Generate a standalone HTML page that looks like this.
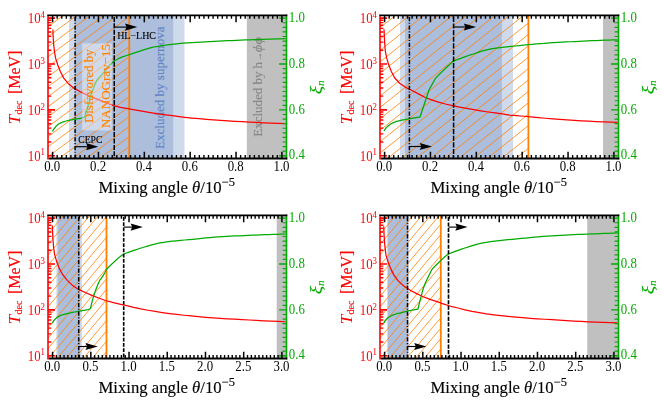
<!DOCTYPE html>
<html><head><meta charset="utf-8"><title>Figure</title>
<style>
html,body{margin:0;padding:0;background:#fff;}
body{width:664px;height:400px;overflow:hidden;}
svg{display:block;font-family:"Liberation Serif",serif;}
svg text{stroke-width:0.14px;}
svg text.tk{stroke-width:0;}
</style></head><body>
<svg width="664" height="400" viewBox="0 0 664 400">
<rect width="664" height="400" fill="#fff"/>
<g opacity="0.999">
<clipPath id="c0"><rect x="48" y="15.4" width="238.5" height="143.1"/></clipPath>
<g clip-path="url(#c0)">
<rect x="69" y="15.4" width="115.5" height="143.1" fill="#cfdaec"/>
<rect x="75" y="15.4" width="98.25" height="143.1" fill="#acbedc"/>
<rect x="246.8" y="15.4" width="39.7" height="143.1" fill="#c0c0c0"/>
<clipPath id="h0"><rect x="48" y="15.4" width="81.25" height="143.1"/></clipPath>
<g clip-path="url(#h0)" stroke="#ff8000" stroke-width="0.8" opacity="1">
<path d="M48 16.7L129.25 -43.42M48 26.7L129.25 -33.42M48 36.7L129.25 -23.42M48 46.7L129.25 -13.42M48 56.7L129.25 -3.42M48 66.7L129.25 6.58M48 76.7L129.25 16.58M48 86.7L129.25 26.58M48 96.7L129.25 36.58M48 106.7L129.25 46.58M48 116.7L129.25 56.58M48 126.7L129.25 66.58M48 136.7L129.25 76.57M48 146.7L129.25 86.57M48 156.7L129.25 96.57M48 166.7L129.25 106.57M48 176.7L129.25 116.57M48 186.7L129.25 126.57M48 196.7L129.25 136.57M48 206.7L129.25 146.57M48 216.7L129.25 156.57" fill="none"/>
</g>
<line x1="129.25" y1="15.4" x2="129.25" y2="158.5" stroke="#ff8000" stroke-width="1.8"/>
<text transform="translate(163.8 87.75) rotate(-90)" text-anchor="middle" font-size="13.4" fill="#5f84c4" stroke="#5f84c4" textLength="122.5" lengthAdjust="spacingAndGlyphs">Excluded by supernova</text>
<text transform="translate(261.5 136.75) rotate(-90)" text-anchor="start" font-size="13.4" fill="#858585" stroke="#858585" textLength="74.85" lengthAdjust="spacingAndGlyphs">Excluded by h</text>
<text transform="translate(261.5 61.3) rotate(-90)" text-anchor="start" font-size="10" fill="#858585" stroke="#858585" textLength="9.2" lengthAdjust="spacingAndGlyphs">→</text>
<text transform="translate(261.5 52.2) rotate(-90)" text-anchor="start" font-size="13.4" fill="#858585" stroke="#858585" textLength="15.2" lengthAdjust="spacingAndGlyphs"><tspan font-style="italic">ϕϕ</tspan></text>
<path d="M52.9 29.5L53.13 36.71L53.63 43.9L54.4 51.08L55.58 58.17L57.8 65.05L60.46 71.75L63.79 78.1L68.37 83.65L74.06 88.14L80.29 91.75L86.8 94.87L93.45 97.65L100.15 100.33L106.84 103.05L113.59 105.61L120.57 107.3L127.68 108.65L134.77 109.97L141.88 111.23L149 112.42L156.12 113.52L163.27 114.52L170.42 115.46L177.57 116.42L184.73 117.33L191.9 118.09L199.08 118.73L206.27 119.31L213.47 119.86L220.66 120.36L227.86 120.84L235.06 121.29L242.26 121.71L249.46 122.09L256.67 122.44L263.88 122.77L271.08 123.07L278.29 123.35L285.5 123.6" fill="none" stroke="#ff0000" stroke-width="1.25" stroke-linejoin="round"/>
<path d="M52.5 131.5L52.93 130.65L53.4 129.82L53.9 129.02L54.43 128.26L54.99 127.52L55.58 126.79L56.22 126.08L56.89 125.41L57.6 124.8L58.34 124.27L59.13 123.78L59.96 123.33L60.82 122.91L61.69 122.52L62.57 122.17L63.44 121.84L64.32 121.53L65.22 121.25L66.12 120.98L67.03 120.74L67.95 120.51L68.86 120.31L69.78 120.12L70.7 119.94L71.62 119.78L72.55 119.62L73.48 119.46L74.4 119.3L75.33 119.14L76.26 118.99L77.19 118.85L78.12 118.71L79.05 118.57L79.97 118.4L80.89 118.22L81.8 118.01L82.7 117.76L83.6 117.49L84.5 117.2L85.01 115.61L85.52 114.01L86.04 112.42L86.55 110.83L87.09 109.25L87.64 107.66L88.17 106.08L88.63 104.47L89.02 102.85L89.35 101.2L89.67 99.56L90.02 97.92L90.42 96.3L90.92 94.71L91.52 93.15L92.16 91.6L92.78 90.04L93.38 88.46L93.98 86.86L94.6 85.27L95.24 83.7L95.94 82.18L96.69 80.72L97.53 79.35L98.59 78.09L99.81 76.91L100.98 75.69L102.08 74.44L103.18 73.17L104.26 71.9L105.32 70.6L106.38 69.3L107.43 68L108.5 66.71L109.59 65.45L110.72 64.23L111.89 63.03L113.08 61.85L114.3 60.7L118.3 58.69L122.39 56.94L126.6 55.5L130.85 54.12L135.08 52.71L139.31 51.29L143.54 49.86L147.8 48.54L152.11 47.42L156.48 46.51L160.88 45.76L165.29 45.15L169.73 44.65L174.16 44.17L178.59 43.66L183.03 43.19L187.47 42.83L191.92 42.54L196.37 42.29L200.83 42.06L205.29 41.83L209.74 41.6L214.19 41.37L218.65 41.15L223.1 40.93L227.56 40.73L232.01 40.53L236.47 40.34L240.93 40.16L245.38 39.98L249.84 39.81L254.3 39.66L258.75 39.51L263.21 39.37L267.67 39.23L272.13 39.1L276.58 38.97L281.04 38.83L285.5 38.7" fill="none" stroke="#00aa00" stroke-width="1.25" stroke-linejoin="round"/>
<rect x="82.2" y="43.4" width="29.6" height="87" fill="rgba(255,255,255,0.42)"/>
<text transform="translate(93 86.2) rotate(-90)" text-anchor="middle" font-size="13.4" fill="#ff8000" stroke="#ff8000" textLength="73.8" lengthAdjust="spacingAndGlyphs">Disfavored by</text>
<text transform="translate(109.9 86) rotate(-90)" text-anchor="middle" font-size="13.4" fill="#ff8000" stroke="#ff8000" textLength="84.2" lengthAdjust="spacingAndGlyphs">NANOGrav−15</text>
<line x1="75.1" y1="16.9" x2="75.1" y2="158.5" stroke="#000" stroke-width="1.5" stroke-dasharray="4.3 1.5 1.1 1.7"/>
<line x1="114.25" y1="16.9" x2="114.25" y2="158.5" stroke="#000" stroke-width="1.5" stroke-dasharray="5.0 1.4"/>
</g>
<line x1="75" y1="146.7" x2="92" y2="146.7" stroke="#000" stroke-width="1.15"/>
<path d="M98.3 146.7L86 143.1L87.6 146.7L86 150.3Z" fill="#000"/>
<line x1="114.25" y1="27.1" x2="130.95" y2="27.1" stroke="#000" stroke-width="1.15"/>
<path d="M137.25 27.1L124.95 23.5L126.55 27.1L124.95 30.7Z" fill="#000"/>
<text x="117.2" y="38.6" font-size="9.7" fill="#000" stroke="#000" textLength="38.8" lengthAdjust="spacingAndGlyphs">HL−LHC</text>
<text x="78.2" y="142.7" font-size="10" fill="#000" stroke="#000" textLength="24.2" lengthAdjust="spacingAndGlyphs">CEPC</text>
<path d="M48 155.75h7M48 109.88h7M48 64.02h7M48 18.15h7" stroke="#ff0000" stroke-width="1.7" fill="none"/>
<path d="M48 141.94h3.4M48 133.86h3.4M48 128.13h3.4M48 123.69h3.4M48 120.06h3.4M48 116.99h3.4M48 114.33h3.4M48 111.98h3.4M48 96.08h3.4M48 88h3.4M48 82.27h3.4M48 77.82h3.4M48 74.19h3.4M48 71.12h3.4M48 68.46h3.4M48 66.12h3.4M48 50.21h3.4M48 42.13h3.4M48 36.4h3.4M48 31.96h3.4M48 28.33h3.4M48 25.26h3.4M48 22.6h3.4M48 20.25h3.4" stroke="#ff0000" stroke-width="1.4" fill="none"/>
<path d="M286.5 155.75h-7.4M286.5 109.88h-7.4M286.5 64.02h-7.4M286.5 18.15h-7.4" stroke="#00aa00" stroke-width="1.4" fill="none"/>
<path d="M286.5 151.16h-3.9M286.5 146.58h-3.9M286.5 141.99h-3.9M286.5 137.4h-3.9M286.5 132.82h-3.9M286.5 128.23h-3.9M286.5 123.64h-3.9M286.5 119.06h-3.9M286.5 114.47h-3.9M286.5 105.3h-3.9M286.5 100.71h-3.9M286.5 96.12h-3.9M286.5 91.54h-3.9M286.5 86.95h-3.9M286.5 82.36h-3.9M286.5 77.78h-3.9M286.5 73.19h-3.9M286.5 68.6h-3.9M286.5 59.43h-3.9M286.5 54.84h-3.9M286.5 50.26h-3.9M286.5 45.67h-3.9M286.5 41.08h-3.9M286.5 36.5h-3.9M286.5 31.91h-3.9M286.5 27.32h-3.9M286.5 22.74h-3.9" stroke="#00aa00" stroke-width="1.15" fill="none"/>
<path d="M52.59 158.5v-6.8M52.59 15.4v6.8M98.45 158.5v-6.8M98.45 15.4v6.8M144.32 158.5v-6.8M144.32 15.4v6.8M190.18 158.5v-6.8M190.18 15.4v6.8M236.05 158.5v-6.8M236.05 15.4v6.8M281.91 158.5v-6.8M281.91 15.4v6.8" stroke="#000" stroke-width="1.5" fill="none"/>
<path d="M57.17 158.5v-3.4M57.17 15.4v3.4M61.76 158.5v-3.4M61.76 15.4v3.4M66.35 158.5v-3.4M66.35 15.4v3.4M70.93 158.5v-3.4M70.93 15.4v3.4M75.52 158.5v-3.4M75.52 15.4v3.4M80.11 158.5v-3.4M80.11 15.4v3.4M84.69 158.5v-3.4M84.69 15.4v3.4M89.28 158.5v-3.4M89.28 15.4v3.4M93.87 158.5v-3.4M93.87 15.4v3.4M103.04 158.5v-3.4M103.04 15.4v3.4M107.62 158.5v-3.4M107.62 15.4v3.4M112.21 158.5v-3.4M112.21 15.4v3.4M116.8 158.5v-3.4M116.8 15.4v3.4M121.38 158.5v-3.4M121.38 15.4v3.4M125.97 158.5v-3.4M125.97 15.4v3.4M130.56 158.5v-3.4M130.56 15.4v3.4M135.14 158.5v-3.4M135.14 15.4v3.4M139.73 158.5v-3.4M139.73 15.4v3.4M148.9 158.5v-3.4M148.9 15.4v3.4M153.49 158.5v-3.4M153.49 15.4v3.4M158.08 158.5v-3.4M158.08 15.4v3.4M162.66 158.5v-3.4M162.66 15.4v3.4M167.25 158.5v-3.4M167.25 15.4v3.4M171.84 158.5v-3.4M171.84 15.4v3.4M176.42 158.5v-3.4M176.42 15.4v3.4M181.01 158.5v-3.4M181.01 15.4v3.4M185.6 158.5v-3.4M185.6 15.4v3.4M194.77 158.5v-3.4M194.77 15.4v3.4M199.36 158.5v-3.4M199.36 15.4v3.4M203.94 158.5v-3.4M203.94 15.4v3.4M208.53 158.5v-3.4M208.53 15.4v3.4M213.12 158.5v-3.4M213.12 15.4v3.4M217.7 158.5v-3.4M217.7 15.4v3.4M222.29 158.5v-3.4M222.29 15.4v3.4M226.88 158.5v-3.4M226.88 15.4v3.4M231.46 158.5v-3.4M231.46 15.4v3.4M240.63 158.5v-3.4M240.63 15.4v3.4M245.22 158.5v-3.4M245.22 15.4v3.4M249.81 158.5v-3.4M249.81 15.4v3.4M254.39 158.5v-3.4M254.39 15.4v3.4M258.98 158.5v-3.4M258.98 15.4v3.4M263.57 158.5v-3.4M263.57 15.4v3.4M268.15 158.5v-3.4M268.15 15.4v3.4M272.74 158.5v-3.4M272.74 15.4v3.4M277.33 158.5v-3.4M277.33 15.4v3.4" stroke="#000" stroke-width="1.4" fill="none"/>
<line x1="286.5" y1="14.5" x2="286.5" y2="159.4" stroke="#00aa00" stroke-width="1.6"/>
<line x1="48" y1="16.3" x2="48" y2="159.4" stroke="#ff0000" stroke-width="1.6"/>
<path d="M47.2 15.4H287.3 M48.8 158.5H287.3" stroke="#000" stroke-width="1.8" fill="none"/>
<text class="tk" transform="translate(52.19 170.9) scale(0.885 1)" font-size="14.5" text-anchor="middle" fill="#000" stroke="#000">0.0</text>
<text class="tk" transform="translate(98.05 170.9) scale(0.885 1)" font-size="14.5" text-anchor="middle" fill="#000" stroke="#000">0.2</text>
<text class="tk" transform="translate(143.92 170.9) scale(0.885 1)" font-size="14.5" text-anchor="middle" fill="#000" stroke="#000">0.4</text>
<text class="tk" transform="translate(189.78 170.9) scale(0.885 1)" font-size="14.5" text-anchor="middle" fill="#000" stroke="#000">0.6</text>
<text class="tk" transform="translate(235.65 170.9) scale(0.885 1)" font-size="14.5" text-anchor="middle" fill="#000" stroke="#000">0.8</text>
<text class="tk" transform="translate(281.51 170.9) scale(0.885 1)" font-size="14.5" text-anchor="middle" fill="#000" stroke="#000">1.0</text>
<text class="tk" transform="translate(45 160.65) scale(0.885 1)" font-size="14.5" text-anchor="end" fill="#ff0000" stroke="#ff0000">10<tspan font-size="10" dy="-5.2">1</tspan></text>
<text class="tk" transform="translate(45 114.78) scale(0.885 1)" font-size="14.5" text-anchor="end" fill="#ff0000" stroke="#ff0000">10<tspan font-size="10" dy="-5.2">2</tspan></text>
<text class="tk" transform="translate(45 68.92) scale(0.885 1)" font-size="14.5" text-anchor="end" fill="#ff0000" stroke="#ff0000">10<tspan font-size="10" dy="-5.2">3</tspan></text>
<text class="tk" transform="translate(45 23.05) scale(0.885 1)" font-size="14.5" text-anchor="end" fill="#ff0000" stroke="#ff0000">10<tspan font-size="10" dy="-5.2">4</tspan></text>
<text class="tk" transform="translate(288.8 159.45) scale(0.885 1)" font-size="14.5" fill="#00aa00" stroke="#00aa00">0.4</text>
<text class="tk" transform="translate(288.8 113.58) scale(0.885 1)" font-size="14.5" fill="#00aa00" stroke="#00aa00">0.6</text>
<text class="tk" transform="translate(288.8 67.72) scale(0.885 1)" font-size="14.5" fill="#00aa00" stroke="#00aa00">0.8</text>
<text class="tk" transform="translate(288.8 21.85) scale(0.885 1)" font-size="14.5" fill="#00aa00" stroke="#00aa00">1.0</text>
<text x="166.75" y="193" font-size="16" text-anchor="middle" textLength="136.5" lengthAdjust="spacingAndGlyphs" fill="#000" stroke="#000">Mixing angle <tspan font-style="italic">θ</tspan>/10<tspan font-size="12" dy="-6.8">−5</tspan></text>
<text transform="translate(19.6 124.3) rotate(-90)" class="tk" font-size="17" font-style="italic" fill="#ff0000" stroke="#ff0000">T</text>
<text transform="translate(21.7 114.5) rotate(-90)" font-size="10" fill="#ff0000" stroke="#ff0000">dec</text>
<text transform="translate(19.6 94.1) rotate(-90)" font-size="16" fill="#ff0000" stroke="#ff0000">[MeV]</text>
<text transform="translate(321.5 94.3) rotate(-90) scale(1.15 1)" font-size="17" font-style="italic" fill="#00aa00" stroke="#00aa00">ξ</text>
<text transform="translate(324.4 85.8) rotate(-90)" font-size="10.5" font-style="italic" fill="#00aa00" stroke="#00aa00">n</text>
<clipPath id="c1"><rect x="380" y="15.4" width="238.5" height="143.1"/></clipPath>
<g clip-path="url(#c1)">
<rect x="400" y="15.4" width="113" height="143.1" fill="#cfdaec"/>
<rect x="405" y="15.4" width="96.9" height="143.1" fill="#acbedc"/>
<rect x="603" y="15.4" width="15.5" height="143.1" fill="#c0c0c0"/>
<clipPath id="h1"><rect x="380" y="15.4" width="148.4" height="143.1"/></clipPath>
<g clip-path="url(#h1)" stroke="#ff8000" stroke-width="0.8" opacity="1">
<path d="M380 16.3L528.4 -102.42M380 27.7L528.4 -91.02M380 39.1L528.4 -79.62M380 50.5L528.4 -68.22M380 61.9L528.4 -56.82M380 73.3L528.4 -45.42M380 84.7L528.4 -34.02M380 96.1L528.4 -22.62M380 107.5L528.4 -11.22M380 118.9L528.4 0.18M380 130.3L528.4 11.58M380 141.7L528.4 22.98M380 153.1L528.4 34.38M380 164.5L528.4 45.78M380 175.9L528.4 57.18M380 187.3L528.4 68.58M380 198.7L528.4 79.98M380 210.1L528.4 91.38M380 221.5L528.4 102.78M380 232.9L528.4 114.18M380 244.3L528.4 125.58M380 255.7L528.4 136.98M380 267.1L528.4 148.38" fill="none"/>
</g>
<line x1="528.4" y1="15.4" x2="528.4" y2="158.5" stroke="#ff8000" stroke-width="1.8"/>
<path d="M384 29.2L384.31 36.42L384.71 43.63L385.29 50.82L386.66 57.91L388.72 64.84L391.34 71.57L394.76 77.96L399.66 83.22L405.59 87.32L412.09 90.47L418.46 93.9L424.85 97.24L431.56 99.87L438.45 102.12L445.41 104.01L452.46 105.63L459.53 107.07L466.64 108.36L473.75 109.64L480.86 110.89L488 112L495.15 112.96L502.3 113.97L509.45 115.01L516.64 115.69L523.84 116.25L531.04 116.88L538.22 117.56L545.41 118.25L552.61 118.87L559.81 119.42L567.01 119.92L574.22 120.38L581.43 120.81L588.64 121.21L595.85 121.57L603.07 121.9L610.28 122.19L617.5 122.45" fill="none" stroke="#ff0000" stroke-width="1.25" stroke-linejoin="round"/>
<path d="M384 131L384.53 130.1L385.11 129.24L385.72 128.42L386.37 127.64L387.07 126.9L387.82 126.19L388.61 125.51L389.43 124.89L390.27 124.33L391.14 123.8L392.05 123.31L392.98 122.85L393.93 122.43L394.88 122.05L395.83 121.7L396.81 121.37L397.8 121.07L398.79 120.8L399.79 120.55L400.78 120.33L401.79 120.12L402.79 119.94L403.81 119.76L404.82 119.59L405.83 119.43L406.85 119.27L407.86 119.1L408.88 118.92L409.89 118.74L410.89 118.55L411.9 118.36L412.91 118.17L413.92 117.99L414.93 117.81L415.94 117.64L416.96 117.47L417.97 117.31L418.99 117.15L420 117L429 90L435.5 78.3L435.94 77.84L436.38 77.39L436.83 76.93L437.27 76.48L437.72 76.03L438.16 75.57L438.61 75.12L439.05 74.67L439.5 74.22L439.95 73.77L440.4 73.32L440.85 72.88L441.3 72.43L441.75 71.98L442.21 71.54L442.66 71.09L443.11 70.65L443.57 70.21L444.02 69.77L444.48 69.33L444.94 68.89L445.39 68.45L445.85 68.01L446.31 67.57L446.77 67.13L447.23 66.7L447.7 66.26L448.16 65.83L448.62 65.39L449.09 64.96L449.55 64.53L450.02 64.1L450.48 63.67L450.95 63.24L451.42 62.81L451.89 62.38L452.36 61.95L452.83 61.53L453.3 61.1L457.29 59.57L461.29 58.08L465.31 56.63L469.34 55.22L473.43 53.98L477.46 52.59L481.48 51.15L485.61 50.1L489.8 49.21L494.01 48.46L498.23 47.82L502.47 47.27L506.71 46.8L510.96 46.4L515.21 46L519.46 45.55L523.71 45.1L527.96 44.67L532.21 44.29L536.47 43.93L540.73 43.59L544.98 43.28L549.25 42.98L553.51 42.71L557.77 42.46L562.03 42.21L566.3 41.98L570.56 41.75L574.83 41.53L579.09 41.31L583.36 41.09L587.62 40.89L591.89 40.7L596.16 40.52L600.43 40.36L604.69 40.2L608.96 40.06L613.23 39.92L617.5 39.8" fill="none" stroke="#00aa00" stroke-width="1.25" stroke-linejoin="round"/>
<line x1="409.4" y1="16.9" x2="409.4" y2="158.5" stroke="#000" stroke-width="1.5" stroke-dasharray="4.3 1.5 1.1 1.7"/>
<line x1="453.6" y1="16.9" x2="453.6" y2="158.5" stroke="#000" stroke-width="1.5" stroke-dasharray="5.1 1.5"/>
</g>
<line x1="409.4" y1="146.5" x2="425.7" y2="146.5" stroke="#000" stroke-width="1.15"/>
<path d="M432 146.5L419.7 142.9L421.3 146.5L419.7 150.1Z" fill="#000"/>
<line x1="453.6" y1="27" x2="469.8" y2="27" stroke="#000" stroke-width="1.15"/>
<path d="M476.1 27L463.8 23.4L465.4 27L463.8 30.6Z" fill="#000"/>
<path d="M380 155.75h7M380 109.88h7M380 64.02h7M380 18.15h7" stroke="#ff0000" stroke-width="1.7" fill="none"/>
<path d="M380 141.94h3.4M380 133.86h3.4M380 128.13h3.4M380 123.69h3.4M380 120.06h3.4M380 116.99h3.4M380 114.33h3.4M380 111.98h3.4M380 96.08h3.4M380 88h3.4M380 82.27h3.4M380 77.82h3.4M380 74.19h3.4M380 71.12h3.4M380 68.46h3.4M380 66.12h3.4M380 50.21h3.4M380 42.13h3.4M380 36.4h3.4M380 31.96h3.4M380 28.33h3.4M380 25.26h3.4M380 22.6h3.4M380 20.25h3.4" stroke="#ff0000" stroke-width="1.4" fill="none"/>
<path d="M618.5 155.75h-7.4M618.5 109.88h-7.4M618.5 64.02h-7.4M618.5 18.15h-7.4" stroke="#00aa00" stroke-width="1.4" fill="none"/>
<path d="M618.5 151.16h-3.9M618.5 146.58h-3.9M618.5 141.99h-3.9M618.5 137.4h-3.9M618.5 132.82h-3.9M618.5 128.23h-3.9M618.5 123.64h-3.9M618.5 119.06h-3.9M618.5 114.47h-3.9M618.5 105.3h-3.9M618.5 100.71h-3.9M618.5 96.12h-3.9M618.5 91.54h-3.9M618.5 86.95h-3.9M618.5 82.36h-3.9M618.5 77.78h-3.9M618.5 73.19h-3.9M618.5 68.6h-3.9M618.5 59.43h-3.9M618.5 54.84h-3.9M618.5 50.26h-3.9M618.5 45.67h-3.9M618.5 41.08h-3.9M618.5 36.5h-3.9M618.5 31.91h-3.9M618.5 27.32h-3.9M618.5 22.74h-3.9" stroke="#00aa00" stroke-width="1.15" fill="none"/>
<path d="M384.59 158.5v-6.8M384.59 15.4v6.8M430.45 158.5v-6.8M430.45 15.4v6.8M476.32 158.5v-6.8M476.32 15.4v6.8M522.18 158.5v-6.8M522.18 15.4v6.8M568.05 158.5v-6.8M568.05 15.4v6.8M613.91 158.5v-6.8M613.91 15.4v6.8" stroke="#000" stroke-width="1.5" fill="none"/>
<path d="M389.17 158.5v-3.4M389.17 15.4v3.4M393.76 158.5v-3.4M393.76 15.4v3.4M398.35 158.5v-3.4M398.35 15.4v3.4M402.93 158.5v-3.4M402.93 15.4v3.4M407.52 158.5v-3.4M407.52 15.4v3.4M412.11 158.5v-3.4M412.11 15.4v3.4M416.69 158.5v-3.4M416.69 15.4v3.4M421.28 158.5v-3.4M421.28 15.4v3.4M425.87 158.5v-3.4M425.87 15.4v3.4M435.04 158.5v-3.4M435.04 15.4v3.4M439.62 158.5v-3.4M439.62 15.4v3.4M444.21 158.5v-3.4M444.21 15.4v3.4M448.8 158.5v-3.4M448.8 15.4v3.4M453.38 158.5v-3.4M453.38 15.4v3.4M457.97 158.5v-3.4M457.97 15.4v3.4M462.56 158.5v-3.4M462.56 15.4v3.4M467.14 158.5v-3.4M467.14 15.4v3.4M471.73 158.5v-3.4M471.73 15.4v3.4M480.9 158.5v-3.4M480.9 15.4v3.4M485.49 158.5v-3.4M485.49 15.4v3.4M490.08 158.5v-3.4M490.08 15.4v3.4M494.66 158.5v-3.4M494.66 15.4v3.4M499.25 158.5v-3.4M499.25 15.4v3.4M503.84 158.5v-3.4M503.84 15.4v3.4M508.42 158.5v-3.4M508.42 15.4v3.4M513.01 158.5v-3.4M513.01 15.4v3.4M517.6 158.5v-3.4M517.6 15.4v3.4M526.77 158.5v-3.4M526.77 15.4v3.4M531.36 158.5v-3.4M531.36 15.4v3.4M535.94 158.5v-3.4M535.94 15.4v3.4M540.53 158.5v-3.4M540.53 15.4v3.4M545.12 158.5v-3.4M545.12 15.4v3.4M549.7 158.5v-3.4M549.7 15.4v3.4M554.29 158.5v-3.4M554.29 15.4v3.4M558.88 158.5v-3.4M558.88 15.4v3.4M563.46 158.5v-3.4M563.46 15.4v3.4M572.63 158.5v-3.4M572.63 15.4v3.4M577.22 158.5v-3.4M577.22 15.4v3.4M581.81 158.5v-3.4M581.81 15.4v3.4M586.39 158.5v-3.4M586.39 15.4v3.4M590.98 158.5v-3.4M590.98 15.4v3.4M595.57 158.5v-3.4M595.57 15.4v3.4M600.15 158.5v-3.4M600.15 15.4v3.4M604.74 158.5v-3.4M604.74 15.4v3.4M609.33 158.5v-3.4M609.33 15.4v3.4" stroke="#000" stroke-width="1.4" fill="none"/>
<line x1="618.5" y1="14.5" x2="618.5" y2="159.4" stroke="#00aa00" stroke-width="1.6"/>
<line x1="380" y1="16.3" x2="380" y2="159.4" stroke="#ff0000" stroke-width="1.6"/>
<path d="M379.2 15.4H619.3 M380.8 158.5H619.3" stroke="#000" stroke-width="1.8" fill="none"/>
<text class="tk" transform="translate(384.19 170.9) scale(0.885 1)" font-size="14.5" text-anchor="middle" fill="#000" stroke="#000">0.0</text>
<text class="tk" transform="translate(430.05 170.9) scale(0.885 1)" font-size="14.5" text-anchor="middle" fill="#000" stroke="#000">0.2</text>
<text class="tk" transform="translate(475.92 170.9) scale(0.885 1)" font-size="14.5" text-anchor="middle" fill="#000" stroke="#000">0.4</text>
<text class="tk" transform="translate(521.78 170.9) scale(0.885 1)" font-size="14.5" text-anchor="middle" fill="#000" stroke="#000">0.6</text>
<text class="tk" transform="translate(567.65 170.9) scale(0.885 1)" font-size="14.5" text-anchor="middle" fill="#000" stroke="#000">0.8</text>
<text class="tk" transform="translate(613.51 170.9) scale(0.885 1)" font-size="14.5" text-anchor="middle" fill="#000" stroke="#000">1.0</text>
<text class="tk" transform="translate(377 160.65) scale(0.885 1)" font-size="14.5" text-anchor="end" fill="#ff0000" stroke="#ff0000">10<tspan font-size="10" dy="-5.2">1</tspan></text>
<text class="tk" transform="translate(377 114.78) scale(0.885 1)" font-size="14.5" text-anchor="end" fill="#ff0000" stroke="#ff0000">10<tspan font-size="10" dy="-5.2">2</tspan></text>
<text class="tk" transform="translate(377 68.92) scale(0.885 1)" font-size="14.5" text-anchor="end" fill="#ff0000" stroke="#ff0000">10<tspan font-size="10" dy="-5.2">3</tspan></text>
<text class="tk" transform="translate(377 23.05) scale(0.885 1)" font-size="14.5" text-anchor="end" fill="#ff0000" stroke="#ff0000">10<tspan font-size="10" dy="-5.2">4</tspan></text>
<text class="tk" transform="translate(620.8 159.45) scale(0.885 1)" font-size="14.5" fill="#00aa00" stroke="#00aa00">0.4</text>
<text class="tk" transform="translate(620.8 113.58) scale(0.885 1)" font-size="14.5" fill="#00aa00" stroke="#00aa00">0.6</text>
<text class="tk" transform="translate(620.8 67.72) scale(0.885 1)" font-size="14.5" fill="#00aa00" stroke="#00aa00">0.8</text>
<text class="tk" transform="translate(620.8 21.85) scale(0.885 1)" font-size="14.5" fill="#00aa00" stroke="#00aa00">1.0</text>
<text x="498.75" y="193" font-size="16" text-anchor="middle" textLength="136.5" lengthAdjust="spacingAndGlyphs" fill="#000" stroke="#000">Mixing angle <tspan font-style="italic">θ</tspan>/10<tspan font-size="12" dy="-6.8">−5</tspan></text>
<text transform="translate(351.6 124.3) rotate(-90)" class="tk" font-size="17" font-style="italic" fill="#ff0000" stroke="#ff0000">T</text>
<text transform="translate(353.7 114.5) rotate(-90)" font-size="10" fill="#ff0000" stroke="#ff0000">dec</text>
<text transform="translate(351.6 94.1) rotate(-90)" font-size="16" fill="#ff0000" stroke="#ff0000">[MeV]</text>
<text transform="translate(653.5 94.3) rotate(-90) scale(1.15 1)" font-size="17" font-style="italic" fill="#00aa00" stroke="#00aa00">ξ</text>
<text transform="translate(656.4 85.8) rotate(-90)" font-size="10.5" font-style="italic" fill="#00aa00" stroke="#00aa00">n</text>
<clipPath id="c2"><rect x="48" y="215.4" width="238.5" height="143.1"/></clipPath>
<g clip-path="url(#c2)">
<rect x="56.3" y="215.4" width="25.6" height="143.1" fill="#cfdaec"/>
<rect x="57.8" y="215.4" width="22.3" height="143.1" fill="#acbedc"/>
<rect x="276.7" y="215.4" width="9.8" height="143.1" fill="#c0c0c0"/>
<clipPath id="h2"><rect x="48" y="215.4" width="58.5" height="143.1"/></clipPath>
<g clip-path="url(#h2)" stroke="#ff8000" stroke-width="0.8" opacity="1">
<path d="M48 223.7L106.5 154.09M48 234.1L106.5 164.49M48 244.5L106.5 174.88M48 254.9L106.5 185.29M48 265.3L106.5 195.69M48 275.7L106.5 206.08M48 286.1L106.5 216.49M48 296.5L106.5 226.88M48 306.9L106.5 237.28M48 317.3L106.5 247.69M48 327.7L106.5 258.09M48 338.1L106.5 268.49M48 348.5L106.5 278.88M48 358.9L106.5 289.28M48 369.3L106.5 299.69M48 379.7L106.5 310.09M48 390.1L106.5 320.49M48 400.5L106.5 330.88M48 410.9L106.5 341.28M48 421.3L106.5 351.69" fill="none"/>
</g>
<line x1="106.5" y1="215.4" x2="106.5" y2="358.5" stroke="#ff8000" stroke-width="1.8"/>
<path d="M52.4 225.6L52.62 232.87L53.01 240.12L53.61 247.38L54.65 254.56L56.67 261.55L59.25 268.37L62.71 274.71L67.23 280.42L72.52 285.41L78.62 289.4L85.18 292.51L91.87 295.36L98.64 298.02L105.48 300.48L112.47 302.46L119.56 304.08L126.65 305.66L133.7 307.44L140.81 308.94L147.96 310.26L155.13 311.45L162.32 312.53L169.52 313.52L176.73 314.43L183.96 315.25L191.19 315.99L198.43 316.65L205.67 317.26L212.92 317.81L220.17 318.32L227.43 318.78L234.68 319.2L241.94 319.6L249.2 320L256.46 320.39L263.72 320.77L270.98 321.12L278.24 321.45L285.5 321.75" fill="none" stroke="#ff0000" stroke-width="1.25" stroke-linejoin="round"/>
<path d="M52.2 323.3L52.73 322.3L53.32 321.35L53.96 320.46L54.65 319.63L55.38 318.87L56.16 318.16L57.02 317.49L57.95 316.86L58.9 316.3L59.87 315.81L60.85 315.39L61.86 315.01L62.9 314.67L63.96 314.35L65.02 314.06L66.07 313.78L67.13 313.52L68.19 313.28L69.25 313.05L70.32 312.83L71.39 312.62L72.46 312.41L73.53 312.21L74.6 312.01L75.67 311.82L76.74 311.63L77.81 311.43L78.88 311.23L79.95 311.03L81.04 310.84L82.12 310.66L83.21 310.48L84.29 310.28L85.36 310.07L86.43 309.85L87.48 309.6L88.51 309.31L89.53 308.99L90.5 308.5L90.72 307.42L90.95 306.35L91.19 305.28L91.44 304.22L91.71 303.15L91.98 302.09L92.26 301.04L92.54 299.98L92.84 298.93L93.14 297.88L93.45 296.83L93.76 295.79L94.08 294.74L94.41 293.7L94.76 292.67L95.13 291.63L95.5 290.61L95.89 289.58L96.28 288.56L96.68 287.54L97.07 286.51L97.46 285.48L97.86 284.45L98.28 283.43L98.72 282.42L99.19 281.44L99.71 280.49L100.3 279.6L101 278.75L101.62 277.86L102.23 276.96L102.83 276.05L103.42 275.13L103.99 274.2L104.54 273.25L105.07 272.29L105.57 271.31L106.05 270.31L106.5 269.3L106.92 268.88L107.34 268.46L107.76 268.04L108.18 267.62L108.6 267.2L109.02 266.78L109.44 266.37L109.87 265.96L110.29 265.54L110.72 265.13L111.15 264.72L111.58 264.31L112.01 263.9L112.44 263.49L112.87 263.09L113.3 262.68L113.74 262.28L114.17 261.87L114.6 261.47L115.04 261.06L115.47 260.65L115.91 260.25L116.34 259.85L116.78 259.44L117.22 259.05L117.66 258.65L118.11 258.26L118.56 257.88L119.01 257.5L119.47 257.12L119.93 256.75L120.4 256.39L120.88 256.04L121.35 255.69L121.84 255.34L122.32 255L122.81 254.66L123.3 254.33L123.8 254L127.67 252.54L131.65 251.19L135.63 249.84L139.62 248.52L143.62 247.24L147.64 246.03L151.69 244.91L155.76 243.87L159.87 242.96L164.01 242.29L168.18 241.74L172.35 241.23L176.52 240.77L180.7 240.35L184.89 240L189.08 239.67L193.26 239.31L197.44 238.89L201.62 238.44L205.8 237.97L209.98 237.52L214.16 237.13L218.34 236.8L222.53 236.55L226.73 236.33L230.92 236.13L235.12 235.94L239.32 235.76L243.52 235.59L247.72 235.4L251.91 235.21L256.11 235.03L260.31 234.84L264.5 234.68L268.7 234.52L272.9 234.39L277.1 234.28L281.3 234.18L285.5 234.1" fill="none" stroke="#00aa00" stroke-width="1.25" stroke-linejoin="round"/>
<line x1="78.7" y1="216.9" x2="78.7" y2="358.5" stroke="#000" stroke-width="1.5" stroke-dasharray="4.3 1.5 1.1 1.7"/>
<line x1="123.7" y1="216.9" x2="123.7" y2="358.5" stroke="#000" stroke-width="1.65" stroke-dasharray="3.8 1.45"/>
</g>
<line x1="78.7" y1="346.5" x2="91.5" y2="346.5" stroke="#000" stroke-width="1.15"/>
<path d="M97.8 346.5L85.5 342.9L87.1 346.5L85.5 350.1Z" fill="#000"/>
<line x1="123.7" y1="227.1" x2="136.6" y2="227.1" stroke="#000" stroke-width="1.15"/>
<path d="M142.9 227.1L130.6 223.5L132.2 227.1L130.6 230.7Z" fill="#000"/>
<path d="M48 355.75h7M48 309.88h7M48 264.02h7M48 218.15h7" stroke="#ff0000" stroke-width="1.7" fill="none"/>
<path d="M48 341.94h3.4M48 333.86h3.4M48 328.13h3.4M48 323.69h3.4M48 320.06h3.4M48 316.99h3.4M48 314.33h3.4M48 311.98h3.4M48 296.08h3.4M48 288h3.4M48 282.27h3.4M48 277.82h3.4M48 274.19h3.4M48 271.12h3.4M48 268.46h3.4M48 266.12h3.4M48 250.21h3.4M48 242.13h3.4M48 236.4h3.4M48 231.96h3.4M48 228.33h3.4M48 225.26h3.4M48 222.6h3.4M48 220.25h3.4" stroke="#ff0000" stroke-width="1.4" fill="none"/>
<path d="M286.5 355.75h-7.4M286.5 309.88h-7.4M286.5 264.02h-7.4M286.5 218.15h-7.4" stroke="#00aa00" stroke-width="1.4" fill="none"/>
<path d="M286.5 351.16h-3.9M286.5 346.58h-3.9M286.5 341.99h-3.9M286.5 337.4h-3.9M286.5 332.82h-3.9M286.5 328.23h-3.9M286.5 323.64h-3.9M286.5 319.06h-3.9M286.5 314.47h-3.9M286.5 305.3h-3.9M286.5 300.71h-3.9M286.5 296.12h-3.9M286.5 291.54h-3.9M286.5 286.95h-3.9M286.5 282.36h-3.9M286.5 277.78h-3.9M286.5 273.19h-3.9M286.5 268.6h-3.9M286.5 259.43h-3.9M286.5 254.84h-3.9M286.5 250.26h-3.9M286.5 245.67h-3.9M286.5 241.08h-3.9M286.5 236.5h-3.9M286.5 231.91h-3.9M286.5 227.32h-3.9M286.5 222.74h-3.9" stroke="#00aa00" stroke-width="1.15" fill="none"/>
<path d="M52.59 358.5v-6.8M52.59 215.4v6.8M90.81 358.5v-6.8M90.81 215.4v6.8M129.03 358.5v-6.8M129.03 215.4v6.8M167.25 358.5v-6.8M167.25 215.4v6.8M205.47 358.5v-6.8M205.47 215.4v6.8M243.69 358.5v-6.8M243.69 215.4v6.8M281.91 358.5v-6.8M281.91 215.4v6.8" stroke="#000" stroke-width="1.5" fill="none"/>
<path d="M56.41 358.5v-3.4M56.41 215.4v3.4M60.23 358.5v-3.4M60.23 215.4v3.4M64.05 358.5v-3.4M64.05 215.4v3.4M67.88 358.5v-3.4M67.88 215.4v3.4M71.7 358.5v-3.4M71.7 215.4v3.4M75.52 358.5v-3.4M75.52 215.4v3.4M79.34 358.5v-3.4M79.34 215.4v3.4M83.16 358.5v-3.4M83.16 215.4v3.4M86.99 358.5v-3.4M86.99 215.4v3.4M94.63 358.5v-3.4M94.63 215.4v3.4M98.45 358.5v-3.4M98.45 215.4v3.4M102.27 358.5v-3.4M102.27 215.4v3.4M106.1 358.5v-3.4M106.1 215.4v3.4M109.92 358.5v-3.4M109.92 215.4v3.4M113.74 358.5v-3.4M113.74 215.4v3.4M117.56 358.5v-3.4M117.56 215.4v3.4M121.38 358.5v-3.4M121.38 215.4v3.4M125.21 358.5v-3.4M125.21 215.4v3.4M132.85 358.5v-3.4M132.85 215.4v3.4M136.67 358.5v-3.4M136.67 215.4v3.4M140.5 358.5v-3.4M140.5 215.4v3.4M144.32 358.5v-3.4M144.32 215.4v3.4M148.14 358.5v-3.4M148.14 215.4v3.4M151.96 358.5v-3.4M151.96 215.4v3.4M155.78 358.5v-3.4M155.78 215.4v3.4M159.61 358.5v-3.4M159.61 215.4v3.4M163.43 358.5v-3.4M163.43 215.4v3.4M171.07 358.5v-3.4M171.07 215.4v3.4M174.89 358.5v-3.4M174.89 215.4v3.4M178.72 358.5v-3.4M178.72 215.4v3.4M182.54 358.5v-3.4M182.54 215.4v3.4M186.36 358.5v-3.4M186.36 215.4v3.4M190.18 358.5v-3.4M190.18 215.4v3.4M194 358.5v-3.4M194 215.4v3.4M197.83 358.5v-3.4M197.83 215.4v3.4M201.65 358.5v-3.4M201.65 215.4v3.4M209.29 358.5v-3.4M209.29 215.4v3.4M213.12 358.5v-3.4M213.12 215.4v3.4M216.94 358.5v-3.4M216.94 215.4v3.4M220.76 358.5v-3.4M220.76 215.4v3.4M224.58 358.5v-3.4M224.58 215.4v3.4M228.4 358.5v-3.4M228.4 215.4v3.4M232.23 358.5v-3.4M232.23 215.4v3.4M236.05 358.5v-3.4M236.05 215.4v3.4M239.87 358.5v-3.4M239.87 215.4v3.4M247.51 358.5v-3.4M247.51 215.4v3.4M251.34 358.5v-3.4M251.34 215.4v3.4M255.16 358.5v-3.4M255.16 215.4v3.4M258.98 358.5v-3.4M258.98 215.4v3.4M262.8 358.5v-3.4M262.8 215.4v3.4M266.63 358.5v-3.4M266.63 215.4v3.4M270.45 358.5v-3.4M270.45 215.4v3.4M274.27 358.5v-3.4M274.27 215.4v3.4M278.09 358.5v-3.4M278.09 215.4v3.4" stroke="#000" stroke-width="1.4" fill="none"/>
<line x1="286.5" y1="214.5" x2="286.5" y2="359.4" stroke="#00aa00" stroke-width="1.6"/>
<line x1="48" y1="216.3" x2="48" y2="359.4" stroke="#ff0000" stroke-width="1.6"/>
<path d="M47.2 215.4H287.3 M48.8 358.5H287.3" stroke="#000" stroke-width="1.8" fill="none"/>
<text class="tk" transform="translate(52.19 370.9) scale(0.885 1)" font-size="14.5" text-anchor="middle" fill="#000" stroke="#000">0.0</text>
<text class="tk" transform="translate(90.41 370.9) scale(0.885 1)" font-size="14.5" text-anchor="middle" fill="#000" stroke="#000">0.5</text>
<text class="tk" transform="translate(128.63 370.9) scale(0.885 1)" font-size="14.5" text-anchor="middle" fill="#000" stroke="#000">1.0</text>
<text class="tk" transform="translate(166.85 370.9) scale(0.885 1)" font-size="14.5" text-anchor="middle" fill="#000" stroke="#000">1.5</text>
<text class="tk" transform="translate(205.07 370.9) scale(0.885 1)" font-size="14.5" text-anchor="middle" fill="#000" stroke="#000">2.0</text>
<text class="tk" transform="translate(243.29 370.9) scale(0.885 1)" font-size="14.5" text-anchor="middle" fill="#000" stroke="#000">2.5</text>
<text class="tk" transform="translate(281.51 370.9) scale(0.885 1)" font-size="14.5" text-anchor="middle" fill="#000" stroke="#000">3.0</text>
<text class="tk" transform="translate(45 360.65) scale(0.885 1)" font-size="14.5" text-anchor="end" fill="#ff0000" stroke="#ff0000">10<tspan font-size="10" dy="-5.2">1</tspan></text>
<text class="tk" transform="translate(45 314.78) scale(0.885 1)" font-size="14.5" text-anchor="end" fill="#ff0000" stroke="#ff0000">10<tspan font-size="10" dy="-5.2">2</tspan></text>
<text class="tk" transform="translate(45 268.92) scale(0.885 1)" font-size="14.5" text-anchor="end" fill="#ff0000" stroke="#ff0000">10<tspan font-size="10" dy="-5.2">3</tspan></text>
<text class="tk" transform="translate(45 223.05) scale(0.885 1)" font-size="14.5" text-anchor="end" fill="#ff0000" stroke="#ff0000">10<tspan font-size="10" dy="-5.2">4</tspan></text>
<text class="tk" transform="translate(288.8 359.45) scale(0.885 1)" font-size="14.5" fill="#00aa00" stroke="#00aa00">0.4</text>
<text class="tk" transform="translate(288.8 313.58) scale(0.885 1)" font-size="14.5" fill="#00aa00" stroke="#00aa00">0.6</text>
<text class="tk" transform="translate(288.8 267.72) scale(0.885 1)" font-size="14.5" fill="#00aa00" stroke="#00aa00">0.8</text>
<text class="tk" transform="translate(288.8 221.85) scale(0.885 1)" font-size="14.5" fill="#00aa00" stroke="#00aa00">1.0</text>
<text x="166.75" y="393" font-size="16" text-anchor="middle" textLength="136.5" lengthAdjust="spacingAndGlyphs" fill="#000" stroke="#000">Mixing angle <tspan font-style="italic">θ</tspan>/10<tspan font-size="12" dy="-6.8">−5</tspan></text>
<text transform="translate(19.6 324.3) rotate(-90)" class="tk" font-size="17" font-style="italic" fill="#ff0000" stroke="#ff0000">T</text>
<text transform="translate(21.7 314.5) rotate(-90)" font-size="10" fill="#ff0000" stroke="#ff0000">dec</text>
<text transform="translate(19.6 294.1) rotate(-90)" font-size="16" fill="#ff0000" stroke="#ff0000">[MeV]</text>
<text transform="translate(321.5 294.3) rotate(-90) scale(1.15 1)" font-size="17" font-style="italic" fill="#00aa00" stroke="#00aa00">ξ</text>
<text transform="translate(324.4 285.8) rotate(-90)" font-size="10.5" font-style="italic" fill="#00aa00" stroke="#00aa00">n</text>
<clipPath id="c3"><rect x="380" y="215.4" width="238.5" height="143.1"/></clipPath>
<g clip-path="url(#c3)">
<rect x="387" y="215.4" width="21.6" height="143.1" fill="#cfdaec"/>
<rect x="388" y="215.4" width="20.2" height="143.1" fill="#acbedc"/>
<rect x="587.2" y="215.4" width="31.3" height="143.1" fill="#c0c0c0"/>
<clipPath id="h3"><rect x="380" y="215.4" width="60.8" height="143.1"/></clipPath>
<g clip-path="url(#h3)" stroke="#ff8000" stroke-width="0.8" opacity="1">
<path d="M380 223.7L440.8 151.35M380 234.1L440.8 161.75M380 244.5L440.8 172.15M380 254.9L440.8 182.55M380 265.3L440.8 192.95M380 275.7L440.8 203.35M380 286.1L440.8 213.75M380 296.5L440.8 224.15M380 306.9L440.8 234.55M380 317.3L440.8 244.95M380 327.7L440.8 255.35M380 338.1L440.8 265.75M380 348.5L440.8 276.15M380 358.9L440.8 286.55M380 369.3L440.8 296.95M380 379.7L440.8 307.35M380 390.1L440.8 317.75M380 400.5L440.8 328.15M380 410.9L440.8 338.55M380 421.3L440.8 348.95" fill="none"/>
</g>
<line x1="440.8" y1="215.4" x2="440.8" y2="358.5" stroke="#ff8000" stroke-width="1.8"/>
<path d="M383.75 226.25L384.02 233.54L384.45 240.83L385.09 248.1L386.07 255.32L388.18 262.31L390.87 269.11L394.22 275.61L398.61 281.37L404.12 286.19L410.2 290.21L416.68 293.59L423.26 296.76L430.05 299.4L436.98 301.71L443.89 304.05L450.83 306.27L457.92 308.01L465 309.82L472.13 311.32L479.31 312.65L486.52 313.83L493.74 314.84L500.98 315.7L508.24 316.44L515.52 317.11L522.79 317.72L530.06 318.27L537.34 318.77L544.63 319.25L551.91 319.73L559.19 320.23L566.47 320.69L573.75 321.11L581.04 321.46L588.33 321.76L595.62 322.04L602.92 322.31L610.21 322.59L617.5 322.85" fill="none" stroke="#ff0000" stroke-width="1.25" stroke-linejoin="round"/>
<path d="M383.75 323.3L384.18 322.36L384.67 321.46L385.21 320.62L385.79 319.83L386.41 319.11L387.07 318.44L387.81 317.82L388.62 317.24L389.48 316.7L390.36 316.2L391.24 315.76L392.12 315.35L393.03 314.97L393.96 314.62L394.9 314.29L395.85 313.99L396.79 313.72L397.74 313.47L398.7 313.24L399.67 313.03L400.63 312.82L401.59 312.6L402.55 312.36L403.51 312.11L404.46 311.86L405.41 311.6L406.37 311.36L407.33 311.14L408.29 310.93L409.25 310.73L410.22 310.53L411.19 310.34L412.15 310.15L413.12 309.97L414.1 309.8L415.07 309.64L416.04 309.48L417.02 309.34L418 309.2L418.23 308.14L418.47 307.08L418.71 306.03L418.95 304.97L419.21 303.92L419.46 302.87L419.72 301.82L419.98 300.77L420.25 299.72L420.52 298.67L420.8 297.63L421.07 296.58L421.35 295.54L421.64 294.5L421.92 293.45L422.21 292.4L422.49 291.36L422.79 290.31L423.09 289.27L423.41 288.23L423.74 287.2L424.08 286.18L424.44 285.17L424.83 284.16L425.25 283.17L425.71 282.19L426.18 281.21L426.66 280.24L427.13 279.26L427.6 278.28L428.06 277.3L428.52 276.33L428.98 275.35L429.45 274.37L429.91 273.4L430.38 272.42L430.85 271.45L431.33 270.47L431.8 269.5L432.2 269.07L432.61 268.65L433.01 268.23L433.42 267.81L433.83 267.39L434.24 266.97L434.65 266.55L435.06 266.13L435.47 265.72L435.88 265.3L436.3 264.89L436.71 264.48L437.13 264.07L437.54 263.66L437.96 263.25L438.38 262.84L438.8 262.43L439.22 262.03L439.64 261.62L440.06 261.22L440.49 260.81L440.91 260.41L441.33 260L441.76 259.6L442.18 259.2L442.61 258.79L443.04 258.39L443.47 258L443.9 257.6L444.34 257.22L444.78 256.84L445.23 256.46L445.68 256.09L446.14 255.73L446.6 255.37L447.07 255.02L447.54 254.68L448.02 254.34L448.5 254L452.59 252.39L456.7 250.86L460.84 249.39L465 247.99L469.18 246.66L473.38 245.34L477.6 244.15L481.88 243.21L486.2 242.42L490.54 241.74L494.89 241.15L499.25 240.63L503.62 240.16L507.99 239.71L512.35 239.28L516.73 238.86L521.1 238.46L525.47 238.07L529.84 237.65L534.21 237.22L538.58 236.8L542.95 236.41L547.33 236.07L551.71 235.79L556.09 235.53L560.48 235.3L564.86 235.08L569.25 234.88L573.63 234.68L578.02 234.49L582.41 234.31L586.79 234.14L591.18 233.98L595.57 233.82L599.95 233.65L604.34 233.48L608.73 233.31L613.11 233.13L617.5 232.95" fill="none" stroke="#00aa00" stroke-width="1.25" stroke-linejoin="round"/>
<line x1="407.5" y1="216.9" x2="407.5" y2="358.5" stroke="#000" stroke-width="1.5" stroke-dasharray="4.3 1.5 1.1 1.7"/>
<line x1="448.5" y1="216.9" x2="448.5" y2="358.5" stroke="#000" stroke-width="1.65" stroke-dasharray="4.1 1.45"/>
</g>
<line x1="407.5" y1="346.5" x2="420.2" y2="346.5" stroke="#000" stroke-width="1.15"/>
<path d="M426.5 346.5L414.2 342.9L415.8 346.5L414.2 350.1Z" fill="#000"/>
<line x1="448.5" y1="227.1" x2="461.3" y2="227.1" stroke="#000" stroke-width="1.15"/>
<path d="M467.6 227.1L455.3 223.5L456.9 227.1L455.3 230.7Z" fill="#000"/>
<path d="M380 355.75h7M380 309.88h7M380 264.02h7M380 218.15h7" stroke="#ff0000" stroke-width="1.7" fill="none"/>
<path d="M380 341.94h3.4M380 333.86h3.4M380 328.13h3.4M380 323.69h3.4M380 320.06h3.4M380 316.99h3.4M380 314.33h3.4M380 311.98h3.4M380 296.08h3.4M380 288h3.4M380 282.27h3.4M380 277.82h3.4M380 274.19h3.4M380 271.12h3.4M380 268.46h3.4M380 266.12h3.4M380 250.21h3.4M380 242.13h3.4M380 236.4h3.4M380 231.96h3.4M380 228.33h3.4M380 225.26h3.4M380 222.6h3.4M380 220.25h3.4" stroke="#ff0000" stroke-width="1.4" fill="none"/>
<path d="M618.5 355.75h-7.4M618.5 309.88h-7.4M618.5 264.02h-7.4M618.5 218.15h-7.4" stroke="#00aa00" stroke-width="1.4" fill="none"/>
<path d="M618.5 351.16h-3.9M618.5 346.58h-3.9M618.5 341.99h-3.9M618.5 337.4h-3.9M618.5 332.82h-3.9M618.5 328.23h-3.9M618.5 323.64h-3.9M618.5 319.06h-3.9M618.5 314.47h-3.9M618.5 305.3h-3.9M618.5 300.71h-3.9M618.5 296.12h-3.9M618.5 291.54h-3.9M618.5 286.95h-3.9M618.5 282.36h-3.9M618.5 277.78h-3.9M618.5 273.19h-3.9M618.5 268.6h-3.9M618.5 259.43h-3.9M618.5 254.84h-3.9M618.5 250.26h-3.9M618.5 245.67h-3.9M618.5 241.08h-3.9M618.5 236.5h-3.9M618.5 231.91h-3.9M618.5 227.32h-3.9M618.5 222.74h-3.9" stroke="#00aa00" stroke-width="1.15" fill="none"/>
<path d="M384.59 358.5v-6.8M384.59 215.4v6.8M422.81 358.5v-6.8M422.81 215.4v6.8M461.03 358.5v-6.8M461.03 215.4v6.8M499.25 358.5v-6.8M499.25 215.4v6.8M537.47 358.5v-6.8M537.47 215.4v6.8M575.69 358.5v-6.8M575.69 215.4v6.8M613.91 358.5v-6.8M613.91 215.4v6.8" stroke="#000" stroke-width="1.5" fill="none"/>
<path d="M388.41 358.5v-3.4M388.41 215.4v3.4M392.23 358.5v-3.4M392.23 215.4v3.4M396.05 358.5v-3.4M396.05 215.4v3.4M399.88 358.5v-3.4M399.88 215.4v3.4M403.7 358.5v-3.4M403.7 215.4v3.4M407.52 358.5v-3.4M407.52 215.4v3.4M411.34 358.5v-3.4M411.34 215.4v3.4M415.16 358.5v-3.4M415.16 215.4v3.4M418.99 358.5v-3.4M418.99 215.4v3.4M426.63 358.5v-3.4M426.63 215.4v3.4M430.45 358.5v-3.4M430.45 215.4v3.4M434.27 358.5v-3.4M434.27 215.4v3.4M438.1 358.5v-3.4M438.1 215.4v3.4M441.92 358.5v-3.4M441.92 215.4v3.4M445.74 358.5v-3.4M445.74 215.4v3.4M449.56 358.5v-3.4M449.56 215.4v3.4M453.38 358.5v-3.4M453.38 215.4v3.4M457.21 358.5v-3.4M457.21 215.4v3.4M464.85 358.5v-3.4M464.85 215.4v3.4M468.67 358.5v-3.4M468.67 215.4v3.4M472.5 358.5v-3.4M472.5 215.4v3.4M476.32 358.5v-3.4M476.32 215.4v3.4M480.14 358.5v-3.4M480.14 215.4v3.4M483.96 358.5v-3.4M483.96 215.4v3.4M487.78 358.5v-3.4M487.78 215.4v3.4M491.61 358.5v-3.4M491.61 215.4v3.4M495.43 358.5v-3.4M495.43 215.4v3.4M503.07 358.5v-3.4M503.07 215.4v3.4M506.89 358.5v-3.4M506.89 215.4v3.4M510.72 358.5v-3.4M510.72 215.4v3.4M514.54 358.5v-3.4M514.54 215.4v3.4M518.36 358.5v-3.4M518.36 215.4v3.4M522.18 358.5v-3.4M522.18 215.4v3.4M526 358.5v-3.4M526 215.4v3.4M529.83 358.5v-3.4M529.83 215.4v3.4M533.65 358.5v-3.4M533.65 215.4v3.4M541.29 358.5v-3.4M541.29 215.4v3.4M545.12 358.5v-3.4M545.12 215.4v3.4M548.94 358.5v-3.4M548.94 215.4v3.4M552.76 358.5v-3.4M552.76 215.4v3.4M556.58 358.5v-3.4M556.58 215.4v3.4M560.4 358.5v-3.4M560.4 215.4v3.4M564.23 358.5v-3.4M564.23 215.4v3.4M568.05 358.5v-3.4M568.05 215.4v3.4M571.87 358.5v-3.4M571.87 215.4v3.4M579.51 358.5v-3.4M579.51 215.4v3.4M583.34 358.5v-3.4M583.34 215.4v3.4M587.16 358.5v-3.4M587.16 215.4v3.4M590.98 358.5v-3.4M590.98 215.4v3.4M594.8 358.5v-3.4M594.8 215.4v3.4M598.62 358.5v-3.4M598.62 215.4v3.4M602.45 358.5v-3.4M602.45 215.4v3.4M606.27 358.5v-3.4M606.27 215.4v3.4M610.09 358.5v-3.4M610.09 215.4v3.4" stroke="#000" stroke-width="1.4" fill="none"/>
<line x1="618.5" y1="214.5" x2="618.5" y2="359.4" stroke="#00aa00" stroke-width="1.6"/>
<line x1="380" y1="216.3" x2="380" y2="359.4" stroke="#ff0000" stroke-width="1.6"/>
<path d="M379.2 215.4H619.3 M380.8 358.5H619.3" stroke="#000" stroke-width="1.8" fill="none"/>
<text class="tk" transform="translate(384.19 370.9) scale(0.885 1)" font-size="14.5" text-anchor="middle" fill="#000" stroke="#000">0.0</text>
<text class="tk" transform="translate(422.41 370.9) scale(0.885 1)" font-size="14.5" text-anchor="middle" fill="#000" stroke="#000">0.5</text>
<text class="tk" transform="translate(460.63 370.9) scale(0.885 1)" font-size="14.5" text-anchor="middle" fill="#000" stroke="#000">1.0</text>
<text class="tk" transform="translate(498.85 370.9) scale(0.885 1)" font-size="14.5" text-anchor="middle" fill="#000" stroke="#000">1.5</text>
<text class="tk" transform="translate(537.07 370.9) scale(0.885 1)" font-size="14.5" text-anchor="middle" fill="#000" stroke="#000">2.0</text>
<text class="tk" transform="translate(575.29 370.9) scale(0.885 1)" font-size="14.5" text-anchor="middle" fill="#000" stroke="#000">2.5</text>
<text class="tk" transform="translate(613.51 370.9) scale(0.885 1)" font-size="14.5" text-anchor="middle" fill="#000" stroke="#000">3.0</text>
<text class="tk" transform="translate(377 360.65) scale(0.885 1)" font-size="14.5" text-anchor="end" fill="#ff0000" stroke="#ff0000">10<tspan font-size="10" dy="-5.2">1</tspan></text>
<text class="tk" transform="translate(377 314.78) scale(0.885 1)" font-size="14.5" text-anchor="end" fill="#ff0000" stroke="#ff0000">10<tspan font-size="10" dy="-5.2">2</tspan></text>
<text class="tk" transform="translate(377 268.92) scale(0.885 1)" font-size="14.5" text-anchor="end" fill="#ff0000" stroke="#ff0000">10<tspan font-size="10" dy="-5.2">3</tspan></text>
<text class="tk" transform="translate(377 223.05) scale(0.885 1)" font-size="14.5" text-anchor="end" fill="#ff0000" stroke="#ff0000">10<tspan font-size="10" dy="-5.2">4</tspan></text>
<text class="tk" transform="translate(620.8 359.45) scale(0.885 1)" font-size="14.5" fill="#00aa00" stroke="#00aa00">0.4</text>
<text class="tk" transform="translate(620.8 313.58) scale(0.885 1)" font-size="14.5" fill="#00aa00" stroke="#00aa00">0.6</text>
<text class="tk" transform="translate(620.8 267.72) scale(0.885 1)" font-size="14.5" fill="#00aa00" stroke="#00aa00">0.8</text>
<text class="tk" transform="translate(620.8 221.85) scale(0.885 1)" font-size="14.5" fill="#00aa00" stroke="#00aa00">1.0</text>
<text x="498.75" y="393" font-size="16" text-anchor="middle" textLength="136.5" lengthAdjust="spacingAndGlyphs" fill="#000" stroke="#000">Mixing angle <tspan font-style="italic">θ</tspan>/10<tspan font-size="12" dy="-6.8">−5</tspan></text>
<text transform="translate(351.6 324.3) rotate(-90)" class="tk" font-size="17" font-style="italic" fill="#ff0000" stroke="#ff0000">T</text>
<text transform="translate(353.7 314.5) rotate(-90)" font-size="10" fill="#ff0000" stroke="#ff0000">dec</text>
<text transform="translate(351.6 294.1) rotate(-90)" font-size="16" fill="#ff0000" stroke="#ff0000">[MeV]</text>
<text transform="translate(653.5 294.3) rotate(-90) scale(1.15 1)" font-size="17" font-style="italic" fill="#00aa00" stroke="#00aa00">ξ</text>
<text transform="translate(656.4 285.8) rotate(-90)" font-size="10.5" font-style="italic" fill="#00aa00" stroke="#00aa00">n</text>
</g>
</svg>
</body></html>
